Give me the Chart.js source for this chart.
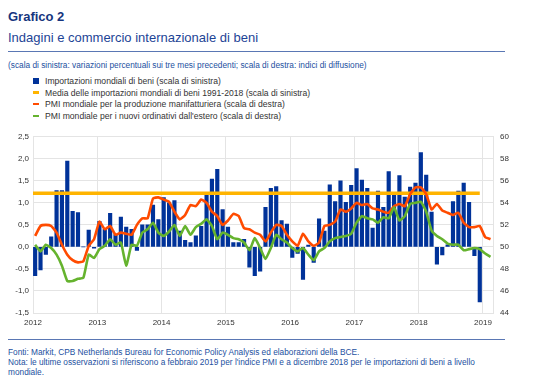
<!DOCTYPE html>
<html lang="it">
<head>
<meta charset="utf-8">
<title>Grafico 2</title>
<script src="https://cdn.jsdelivr.net/npm/chart.js@4.4.1/dist/chart.umd.min.js"></script>
<style>
    body {
        margin: 0;
        width: 540px;
        height: 383px;
        background: #fff;
        font-family: "Liberation Sans", Arial, sans-serif;
        position: relative;
        overflow: hidden;
    }
    .abs { position: absolute; white-space: nowrap; }
    #titolo { left: 8px; top: 10px; font-size: 13px; line-height: 13px; font-weight: bold; color: #16357e; }
    #sottotitolo { left: 8px; top: 30.5px; font-size: 13px; line-height: 13px; color: #1d4496; }
    .riga { position: absolute; left: 8px; width: 497px; height: 0; border-top: 1.5px solid #5a77b4; }
    #nota-scala { left: 8px; top: 60px; font-size: 8.3px; line-height: 10px; color: #2350a0; }
    #legenda { left: 33px; top: 75.2px; font-size: 8.6px; color: #333; }
    .voce { height: 11.6px; display: flex; align-items: center; }
    .marker { width: 6px; margin-right: 6px; }
    #fonti { left: 8px; top: 347px; font-size: 8.3px; line-height: 10.2px; color: #2350a0; }
    #grafico { position: absolute; left: 0; top: 125px; width: 540px; height: 210px; }
</style>
</head>
<body>
<div class="abs" id="titolo">Grafico 2</div>
<div class="abs" id="sottotitolo">Indagini e commercio internazionale di beni</div>
<div class="riga" style="top:51px"></div>
<div class="abs" id="nota-scala">(scala di sinistra: variazioni percentuali sui tre mesi precedenti; scala di destra: indici di diffusione)</div>
<div class="abs" id="legenda"></div>
<div id="grafico"><canvas id="chart"></canvas></div>
<div class="riga" style="top:338.5px"></div>
<div class="abs" id="fonti">Fonti: Markit, CPB Netherlands Bureau for Economic Policy Analysis ed elaborazioni della BCE.<br>Nota: le ultime osservazioni si riferiscono a febbraio 2019 per l'indice PMI e a dicembre 2018 per le importazioni di beni a livello<br>mondiale.</div>

<script>
// Dati mensili: gennaio 2012 - dicembre 2018 (importazioni), febbraio 2019 (PMI)
const anni = ['2012', '2013', '2014', '2015', '2016', '2017', '2018', '2019'];
const tickSinistra = [-1.5, -1.0, -0.5, 0.0, 0.5, 1.0, 1.5, 2.0, 2.5];
const tickDestra = [44, 46, 48, 50, 52, 54, 56, 58, 60];

const importazioni = [
    -0.65, -0.52, -0.17, 0.23, 1.28, 1.28, 1.95, 0.81, 0.78, 0.00, 0.38, -0.03,
    0.58, 0.40, 0.76, 0.28, 0.68, 0.45, 0.40, -0.08, 0.50, 0.50, 0.95, 0.62,
    1.12, 1.00, 1.05, 0.36, 0.15, 0.10, 0.25, 0.47, 1.17, 1.54, 1.76, 0.85,
    0.45, 0.10, 0.10, 0.17, -0.46, -0.65, -0.55, 0.90, 1.33, 1.37, 0.60, 0.52,
    -0.24, -0.15, -0.74, 0.04, -0.35, 0.64, 0.36, 1.41, 1.03, 1.50, 1.01, 1.40,
    1.78, 1.52, 1.33, 0.43, 1.27, 0.90, 1.71, 1.18, 1.62, 1.13, 1.36, 1.45,
    2.14, 1.63, 0.79, -0.39, -0.18, 0.05, 1.03, 1.27, 1.45, 1.01, -0.20, -1.25
];
const mediaImportazioni = 1.22;

const pmiProduzione = [
    51.0, 51.9, 52.0, 51.9, 51.3, 50.2, 49.3, 48.8, 48.6, 48.7, 50.1, 50.7,
    52.3, 51.6, 51.9, 51.1, 51.3, 51.2, 51.1, 52.0, 52.6, 52.6, 54.4, 54.5,
    54.3, 54.1, 53.2, 52.5, 52.9, 53.8, 53.7, 54.3, 54.0, 53.2, 52.8, 52.0,
    52.4, 53.0, 52.8, 51.7, 51.6, 51.3, 51.1, 50.5, 51.3, 52.0, 51.9, 51.1,
    50.5, 50.1, 51.2, 50.5, 50.1, 50.4, 51.9, 52.0, 52.3, 53.4, 53.2, 53.5,
    54.0, 53.8, 53.9, 53.5, 53.4, 53.2, 53.1, 53.7, 53.9, 53.7, 54.8, 55.4,
    55.4, 54.8, 53.4, 53.9, 53.3, 53.1, 52.9, 53.1, 52.2, 51.8, 51.8, 51.9,
    50.9, 50.7
];

const pmiOrdiniEsteri = [
    50.2, 49.6, 50.2, 49.9, 49.3, 48.3, 46.9, 46.9, 47.1, 47.2, 49.3, 49.0,
    49.8, 50.1, 50.7, 50.2, 50.4, 48.3, 50.2, 50.1, 51.3, 51.6, 52.2, 51.3,
    51.0, 51.4, 52.0, 51.0, 51.9, 51.1, 51.8, 52.1, 52.5, 51.9, 50.7, 51.3,
    51.1, 50.8, 50.7, 50.4, 49.7, 50.8, 49.9, 48.9, 49.9, 51.1, 50.7, 50.4,
    49.9, 49.6, 49.9, 49.3, 48.8, 49.6, 49.9, 50.5, 50.8, 50.9, 51.0, 51.2,
    52.2, 52.8, 52.6, 52.5, 52.2, 52.7, 52.6, 53.6, 52.4, 52.8, 53.9, 54.0,
    54.1, 53.2, 51.5, 51.0, 50.7, 50.3, 50.2, 50.2, 49.7, 49.8, 49.9, 49.8,
    49.4, 49.1
];

const colori = {
    importazioni: '#003299',
    media: '#ffb400',
    produzione: '#ff4b00',
    ordini: '#65b32e',
    griglia: '#e4e4e4',
    testo: '#333333'
};

const voci = [
    { testo: 'Importazioni mondiali di beni (scala di sinistra)', colore: colori.importazioni, tipo: 'quadrato' },
    { testo: 'Media delle importazioni mondiali di beni 1991-2018 (scala di sinistra)', colore: colori.media, tipo: 'linea' },
    { testo: 'PMI mondiale per la produzione manifatturiera (scala di destra)', colore: colori.produzione, tipo: 'linea' },
    { testo: "PMI mondiale per i nuovi ordinativi dall'estero (scala di destra)", colore: colori.ordini, tipo: 'linea' }
];

// Legenda in HTML
document.getElementById('legenda').innerHTML = voci.map(v => `
    <div class="voce">
        <span class="marker" style="height:${v.tipo === 'quadrato' ? 6 : 2.5}px;background:${v.colore}"></span>
        <span>${v.testo}</span>
    </div>
`).join('');

// Posizione dei punti: mese i, leggermente spostato dall'inizio dell'anno
const scostamento = 0.4;
const puntiMese = serie => serie.map((v, i) => ({ x: i + scostamento, y: v }));
const ultimoMeseImport = importazioni.length - 1 + scostamento;

Chart.defaults.font.family = '"Liberation Sans", Arial, sans-serif';
Chart.defaults.color = colori.testo;

new Chart(document.getElementById('chart'), {
    type: 'bar',
    data: {
        datasets: [
            {
                type: 'line',
                label: voci[3].testo,
                data: puntiMese(pmiOrdiniEsteri),
                yAxisID: 'y2',
                borderColor: colori.ordini,
                borderWidth: 2.6,
                pointRadius: 0,
                borderJoinStyle: 'round',
                tension: 0.15,
                order: 1
            },
            {
                type: 'line',
                label: voci[2].testo,
                data: puntiMese(pmiProduzione),
                yAxisID: 'y2',
                borderColor: colori.produzione,
                borderWidth: 2.6,
                pointRadius: 0,
                borderJoinStyle: 'round',
                tension: 0.15,
                order: 2
            },
            {
                type: 'line',
                label: voci[1].testo,
                data: [{ x: 0, y: mediaImportazioni }, { x: ultimoMeseImport, y: mediaImportazioni }],
                yAxisID: 'y',
                borderColor: colori.media,
                borderWidth: 3.5,
                pointRadius: 0,
                order: 3
            },
            {
                type: 'bar',
                label: voci[0].testo,
                data: puntiMese(importazioni),
                yAxisID: 'y',
                backgroundColor: colori.importazioni,
                barThickness: 3.5,
                order: 4
            }
        ]
    },
    options: {
        responsive: true,
        maintainAspectRatio: false,
        animation: false,
        layout: { padding: { top: 10 } },
        plugins: {
            legend: { display: false },
            tooltip: { enabled: false }
        },
        scales: {
            x: {
                type: 'linear',
                min: 0,
                max: 85.87,
                offset: false,
                grid: { offset: false, color: colori.griglia, drawTicks: false },
                border: { color: colori.griglia },
                afterBuildTicks: scale => {
                    scale.ticks = anni.map((a, k) => ({ value: k * 12 }));
                },
                ticks: {
                    font: { size: 8 },
                    padding: 5,
                    maxRotation: 0,
                    callback: (value, index) => anni[index]
                },
                afterFit: scale => { scale.height = 22; }
            },
            y: {
                position: 'left',
                min: tickSinistra[0],
                max: tickSinistra[tickSinistra.length - 1],
                grid: { color: colori.griglia, drawTicks: false },
                border: { color: colori.griglia },
                afterBuildTicks: scale => {
                    scale.ticks = tickSinistra.map(v => ({ value: v }));
                },
                ticks: {
                    font: { size: 8 },
                    padding: 4,
                    callback: value => value.toFixed(1).replace('.', ',')
                },
                afterFit: scale => { scale.width = 33; }
            },
            y2: {
                position: 'right',
                min: tickDestra[0],
                max: tickDestra[tickDestra.length - 1],
                grid: { drawOnChartArea: false, drawTicks: false },
                border: { color: colori.griglia },
                afterBuildTicks: scale => {
                    scale.ticks = tickDestra.map(v => ({ value: v }));
                },
                ticks: {
                    font: { size: 8 },
                    padding: 7
                },
                afterFit: scale => { scale.width = 47; }
            }
        }
    }
});
</script>
</body>
</html>
